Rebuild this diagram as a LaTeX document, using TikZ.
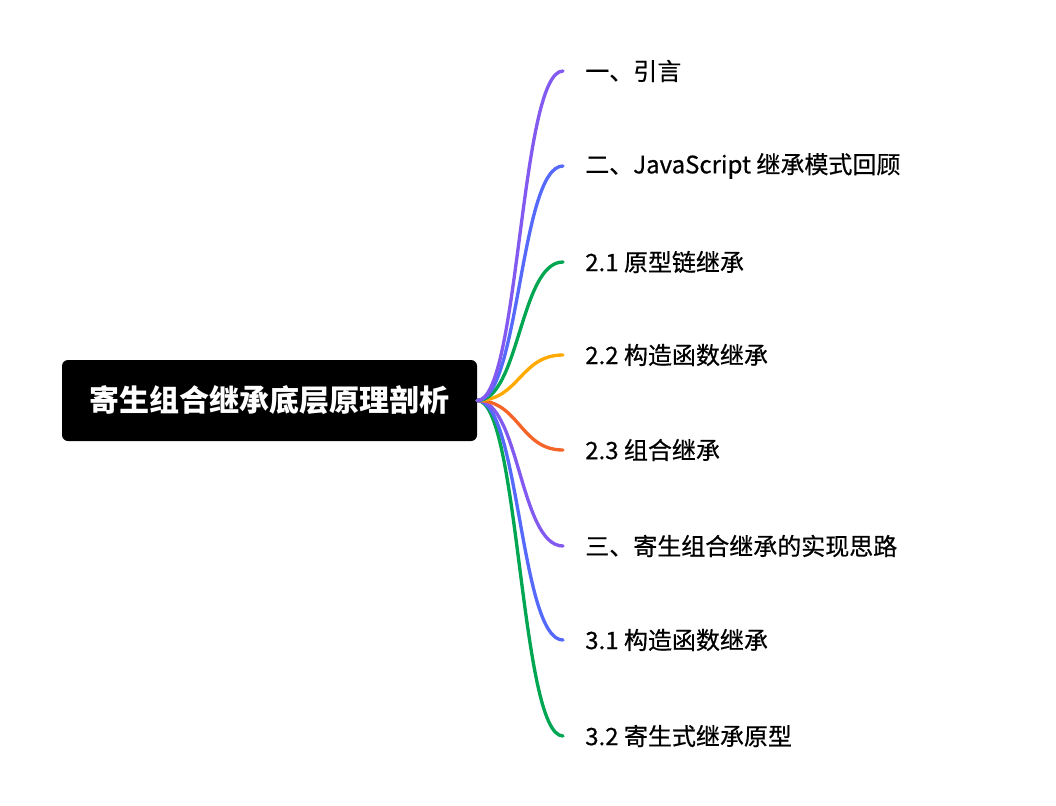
\documentclass[tikz,border=0pt]{standalone}
\usepackage{fontspec}
\newfontfamily\cjk{Noto Sans CJK SC}
\newfontfamily\cjkmed[FakeBold=0.6]{Noto Sans CJK SC}
\definecolor{cpurple}{HTML}{825AF0}
\definecolor{cblue}{HTML}{5569FA}
\definecolor{cgreen}{HTML}{00A651}
\definecolor{corange}{HTML}{FFAA00}
\definecolor{cred}{HTML}{F56428}
\tikzset{
  rootbox/.style={fill=black, rounded corners=4.5pt, minimum width=311.25pt, minimum height=60.75pt, inner sep=0pt, text=white, font=\cjk\bfseries\fontsize{22.5pt}{27pt}\selectfont},
  leaf/.style={anchor=west, inner xsep=16.5pt, inner ysep=0pt, font=\cjkmed\fontsize{18pt}{22pt}\selectfont, text=black},
  branch/.style={line width=2.5pt, line cap=round},
}
\begin{document}
\begin{tikzpicture}[x=0.75pt, y=-0.75pt]
\useasboundingbox (0,0) rectangle (1056,806);
\node[rootbox] (root) at (269.5,400.5) {寄生组合继承底层原理剖析};
\node[leaf] (a) at (563,71) {一、引言};
\node[leaf] (b) at (563,166) {二、JavaScript 继承模式回顾};
\node[leaf] (c) at (563,262) {2.1 原型链继承};
\node[leaf] (d) at (563,355) {2.2 构造函数继承};
\node[leaf] (e) at (563,450) {2.3 组合继承};
\node[leaf] (f) at (563,546) {三、寄生组合继承的实现思路};
\node[leaf] (g) at (563,640) {3.1 构造函数继承};
\node[leaf] (h) at (563,736) {3.2 寄生式继承原型};
\draw[branch, cgreen] (root.east) .. controls +(42,0) and +(-43,0) .. (h.west);
\draw[branch, cblue] (root.east) .. controls +(42,0) and +(-43,0) .. (g.west);
\draw[branch, cpurple] (root.east) .. controls +(42,0) and +(-43,0) .. (f.west);
\draw[branch, cred] (root.east) .. controls +(42,0) and +(-43,0) .. (e.west);
\draw[branch, corange] (root.east) .. controls +(42,0) and +(-43,0) .. (d.west);
\draw[branch, cgreen] (root.east) .. controls +(42,0) and +(-43,0) .. (c.west);
\draw[branch, cblue] (root.east) .. controls +(42,0) and +(-43,0) .. (b.west);
\draw[branch, cpurple] (root.east) .. controls +(42,0) and +(-43,0) .. (a.west);
\end{tikzpicture}
\end{document}
